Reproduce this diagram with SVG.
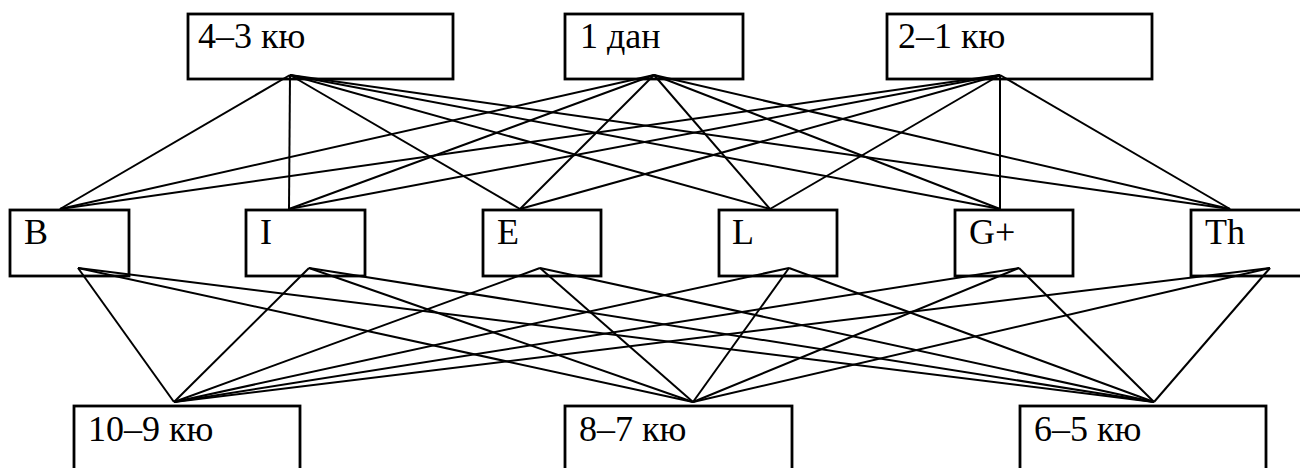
<svg xmlns="http://www.w3.org/2000/svg" width="1300" height="468" viewBox="0 0 1300 468">
<style>
.box{fill:#fff;stroke:#000;stroke-width:2.8}
.edges line{stroke:#000;stroke-width:2}
</style>
<rect width="1300" height="468" fill="#fff"/>
<g font-family="Liberation Serif, serif" font-size="36" fill="#000">
<g id="n43"><rect class="box" x="188" y="14" width="265" height="65"/><text x="198" y="48">4–3 кю</text></g>
<g id="n1dan"><rect class="box" x="565" y="14" width="178" height="65"/><text x="580" y="48">1 дан</text></g>
<g id="n21"><rect class="box" x="887" y="14" width="265" height="65"/><text x="898" y="48">2–1 кю</text></g>
<g id="nB"><rect class="box" x="10" y="210" width="119" height="66"/><text x="24" y="244">B</text></g>
<g id="nI"><rect class="box" x="246" y="210" width="119" height="66"/><text x="260" y="244">I</text></g>
<g id="nE"><rect class="box" x="483" y="210" width="118" height="66"/><text x="497" y="244">E</text></g>
<g id="nL"><rect class="box" x="719" y="210" width="118" height="66"/><text x="732" y="244">L</text></g>
<g id="nG"><rect class="box" x="955" y="210" width="118" height="66"/><text x="969" y="244">G+</text></g>
<g id="nTh"><rect class="box" x="1191" y="210" width="119" height="66"/><text x="1205" y="244">Th</text></g>
<g id="n109"><rect class="box" x="74" y="406" width="226" height="80"/><text x="88" y="441">10–9 кю</text></g>
<g id="n87"><rect class="box" x="565" y="406" width="227" height="80"/><text x="579" y="441">8–7 кю</text></g>
<g id="n65"><rect class="box" x="1020" y="406" width="246" height="80"/><text x="1034" y="441">6–5 кю</text></g>
</g>
<g class="edges" id="connectors">
<line x1="290" y1="75" x2="60" y2="209"/><line x1="290" y1="75" x2="289" y2="209"/><line x1="290" y1="75" x2="520" y2="209"/><line x1="290" y1="75" x2="770" y2="209"/><line x1="290" y1="75" x2="1000" y2="209"/><line x1="290" y1="75" x2="1230" y2="209"/>
<line x1="654" y1="75" x2="60" y2="209"/><line x1="654" y1="75" x2="289" y2="209"/><line x1="654" y1="75" x2="520" y2="209"/><line x1="654" y1="75" x2="770" y2="209"/><line x1="654" y1="75" x2="1000" y2="209"/><line x1="654" y1="75" x2="1230" y2="209"/>
<line x1="1000" y1="75" x2="60" y2="209"/><line x1="1000" y1="75" x2="289" y2="209"/><line x1="1000" y1="75" x2="520" y2="209"/><line x1="1000" y1="75" x2="770" y2="209"/><line x1="1000" y1="75" x2="1000" y2="209"/><line x1="1000" y1="75" x2="1230" y2="209"/>
<line x1="78" y1="268" x2="174" y2="402"/><line x1="78" y1="268" x2="693" y2="402"/><line x1="78" y1="268" x2="1154" y2="402"/>
<line x1="309" y1="268" x2="174" y2="402"/><line x1="309" y1="268" x2="693" y2="402"/><line x1="309" y1="268" x2="1154" y2="402"/>
<line x1="540" y1="268" x2="174" y2="402"/><line x1="540" y1="268" x2="693" y2="402"/><line x1="540" y1="268" x2="1154" y2="402"/>
<line x1="789" y1="268" x2="174" y2="402"/><line x1="789" y1="268" x2="693" y2="402"/><line x1="789" y1="268" x2="1154" y2="402"/>
<line x1="1019" y1="268" x2="174" y2="402"/><line x1="1019" y1="268" x2="693" y2="402"/><line x1="1019" y1="268" x2="1154" y2="402"/>
<line x1="1270" y1="268" x2="174" y2="402"/><line x1="1270" y1="268" x2="693" y2="402"/><line x1="1270" y1="268" x2="1154" y2="402"/>
</g>
</svg>
